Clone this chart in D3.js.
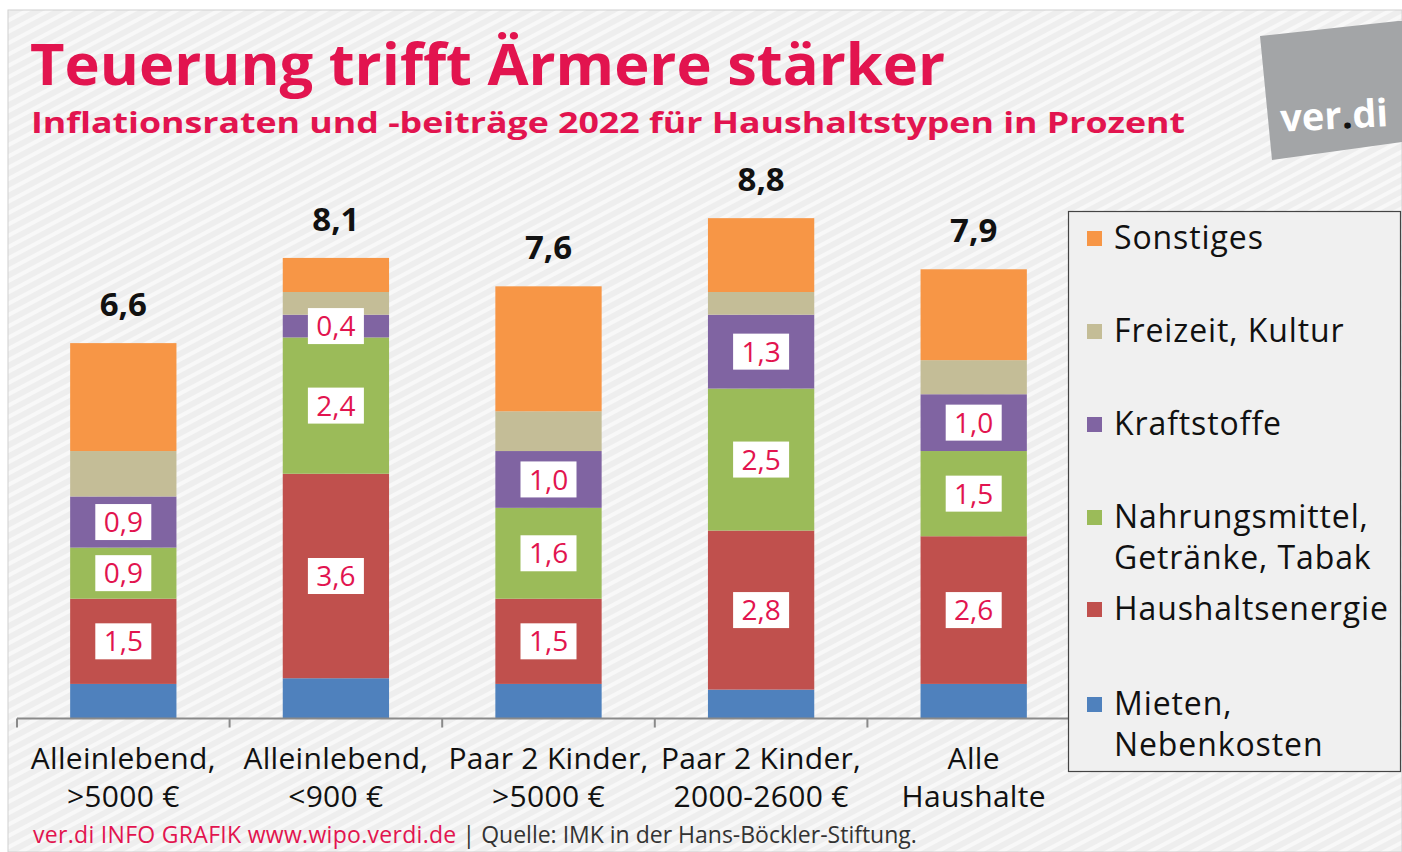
<!DOCTYPE html>
<html>
<head>
<meta charset="utf-8">
<script src="https://cdn.jsdelivr.net/npm/d3@7"></script>
<style>
html,body{margin:0;padding:0;background:#fff;}
svg{display:block;}
text{font-family:"Open Sans","Noto Sans",sans-serif;}
</style>
</head>
<body>
<svg id="chart" width="1402" height="852"></svg>
<script>
// ---------- data ----------
const categories = ["Alleinlebend, >5000 €", "Alleinlebend, <900 €", "Paar 2 Kinder, >5000 €", "Paar 2 Kinder, 2000-2600 €", "Alle Haushalte"];
const categoryLines = [["Alleinlebend,", ">5000 €"], ["Alleinlebend,", "<900 €"], ["Paar 2 Kinder,", ">5000 €"], ["Paar 2 Kinder,", "2000-2600 €"], ["Alle", "Haushalte"]];
const seriesNames = ["Mieten, Nebenkosten", "Haushaltsenergie", "Nahrungsmittel, Getränke, Tabak", "Kraftstoffe", "Freizeit, Kultur", "Sonstiges"];
const mieten      = [0.6, 0.7, 0.6, 0.5, 0.6];
const energie     = [1.5, 3.6, 1.5, 2.8, 2.6];
const nahrung     = [0.9, 2.4, 1.6, 2.5, 1.5];
const kraftstoffe = [0.9, 0.4, 1.0, 1.3, 1.0];
const freizeit    = [0.8, 0.4, 0.7, 0.4, 0.6];
const sonstiges   = [1.9, 0.6, 2.2, 1.3, 1.6];
const totals      = [6.6, 8.1, 7.6, 8.8, 7.9];
const labeledSeries = ["Haushaltsenergie", "Nahrungsmittel, Getränke, Tabak", "Kraftstoffe"];
const legendLines = [["Sonstiges"], ["Freizeit, Kultur"], ["Kraftstoffe"], ["Nahrungsmittel,", "Getränke, Tabak"], ["Haushaltsenergie"], ["Mieten,", "Nebenkosten"]];
const legendOrder = ["Sonstiges", "Freizeit, Kultur", "Kraftstoffe", "Nahrungsmittel, Getränke, Tabak", "Haushaltsenergie", "Mieten, Nebenkosten"];
const colors = ["#4f81bd", "#c0504d", "#9bbb59", "#8064a2", "#c4bd97", "#f79646"];

const seriesValues = [mieten, energie, nahrung, kraftstoffe, freizeit, sonstiges];
const rows = categories.map((c, i) => {
  const r = {cat: c};
  seriesNames.forEach((s, j) => r[s] = seriesValues[j][i]);
  return r;
});

const RED = "#e2144f";
const fmt = v => d3.format(".1f")(v).replace(".", ",");

const svg = d3.select("#chart");

// ---------- background ----------
const defs = svg.append("defs");
const pat = defs.append("pattern").attr("id", "stripes").attr("patternUnits", "userSpaceOnUse")
  .attr("width", 10).attr("height", 10).attr("patternTransform", "rotate(-28)");
pat.append("rect").attr("width", 10).attr("height", 10).attr("fill", "#eeeeee");
pat.append("rect").attr("width", 10).attr("height", 4).attr("fill", "#f8f8f8");

svg.append("rect").attr("x", 8).attr("y", 10).attr("width", 1394).attr("height", 842)
  .attr("fill", "url(#stripes)").attr("stroke", "#d0d0d0").attr("stroke-width", 1);

// ---------- title ----------
svg.append("text").attr("x", 30).attr("y", 85).attr("fill", RED)
  .attr("font-size", 57).attr("font-weight", 700)
  .attr("textLength", 915).attr("lengthAdjust", "spacingAndGlyphs")
  .text("Teuerung trifft Ärmere stärker");
svg.append("text").attr("x", 31).attr("y", 133).attr("fill", RED)
  .attr("font-size", 29).attr("font-weight", 700)
  .attr("textLength", 1154).attr("lengthAdjust", "spacingAndGlyphs")
  .text("Inflationsraten und -beiträge 2022 für Haushaltstypen  in Prozent");

// ---------- logo ----------
svg.append("polygon").attr("points", "1260,36 1398,21 1402,21 1402,142 1272,160").attr("fill", "#a3a5a7");
const lt = svg.append("text").attr("x", 1334).attr("y", 129).attr("text-anchor", "middle").attr("fill", "#fff")
  .attr("font-size", 38).attr("font-weight", 700).attr("transform", "rotate(-3,1334,115)");
lt.append("tspan").text("ver");
lt.append("tspan").attr("fill", "#111").text(".");
lt.append("tspan").text("di");

// ---------- scales ----------
const x = d3.scaleBand().domain(categories).range([17, 1080]).paddingInner(0.5).paddingOuter(0.25);
const y = d3.scaleLinear().domain([0, 10]).range([718, 150]);
const color = d3.scaleOrdinal().domain(seriesNames).range(colors);

const stack = d3.stack().keys(seriesNames)(rows);

// ---------- bars ----------
const layers = svg.append("g").selectAll("g").data(stack).join("g").attr("fill", d => color(d.key));
layers.selectAll("rect").data(d => d).join("rect")
  .attr("x", d => x(d.data.cat))
  .attr("width", x.bandwidth())
  .attr("y", d => y(d[1]))
  .attr("height", d => y(d[0]) - y(d[1]));

// ---------- segment labels ----------
const labelLayers = svg.append("g").selectAll("g").data(stack.filter(s => labeledSeries.includes(s.key))).join("g");
const lab = labelLayers.selectAll("g").data(d => d).join("g")
  .attr("transform", d => `translate(${x(d.data.cat) + x.bandwidth() / 2},${(y(d[0]) + y(d[1])) / 2})`);
lab.append("rect").attr("x", -28).attr("y", -18).attr("width", 56).attr("height", 36).attr("fill", "#fff");
lab.append("text").attr("text-anchor", "middle").attr("dy", "0.36em").attr("fill", RED)
  .attr("font-size", 28).text(d => fmt(d[1] - d[0]));

// ---------- totals ----------
svg.append("g").selectAll("text").data(categories).join("text")
  .attr("x", d => x(d) + x.bandwidth() / 2)
  .attr("y", (d, i) => y(totals[i]) - 27)
  .attr("text-anchor", "middle").attr("font-size", 33).attr("font-weight", 700).attr("fill", "#111")
  .text((d, i) => fmt(totals[i]));

// ---------- x axis ----------
const axis = svg.append("g").attr("transform", "translate(0,718.5)");
axis.append("line").attr("x1", x.range()[0]).attr("x2", x.range()[1]).attr("stroke", "#8a8a8a").attr("stroke-width", 2);
const bounds = categories.map(c => x(c) - x.step() * x.paddingInner() / 2).concat([x.range()[1]]);
bounds[0] = x.range()[0];
axis.selectAll(".tick").data(bounds).join("line")
  .attr("x1", d => d).attr("x2", d => d).attr("y1", 0).attr("y2", 9)
  .attr("stroke", "#8a8a8a").attr("stroke-width", 2);

const xl = svg.append("g").selectAll("text").data(categories).join("text")
  .attr("text-anchor", "middle").attr("font-size", 30).attr("letter-spacing", 0.3).attr("fill", "#111");
xl.selectAll("tspan").data((d, i) => categoryLines[i]).join("tspan")
  .attr("x", function () { const c = d3.select(this.parentNode).datum(); return x(c) + x.bandwidth() / 2; })
  .attr("y", (d, i) => 769 + i * 38)
  .text(d => d);

// ---------- legend ----------
svg.append("rect").attr("x", 1068.5).attr("y", 211.5).attr("width", 332).attr("height", 560)
  .attr("fill", "#f0f0f0").attr("stroke", "#444").attr("stroke-width", 1.2);
const legendY = [238, 331, 424, 517, 609, 704];
const lg = svg.append("g").selectAll("g").data(legendOrder).join("g")
  .attr("transform", (d, i) => `translate(1087,${legendY[i]})`);
lg.append("rect").attr("x", 0).attr("y", -7).attr("width", 15).attr("height", 15).attr("fill", d => color(d));
lg.append("text").attr("font-size", 32).attr("letter-spacing", 0.9).attr("fill", "#111")
  .selectAll("tspan").data((d, i) => legendLines[i]).join("tspan")
  .attr("x", 27).attr("y", (d, i) => 11 + i * 41).text(d => d);

// ---------- footer ----------
const foot = svg.append("text").attr("x", 33).attr("y", 843).attr("font-size", 23);
foot.append("tspan").attr("fill", RED).attr("letter-spacing", 0.3).text("ver.di INFO GRAFIK www.wipo.verdi.de");
foot.append("tspan").attr("fill", "#333").text(" | Quelle: IMK in der Hans-Böckler-Stiftung.");
</script>
</body>
</html>
